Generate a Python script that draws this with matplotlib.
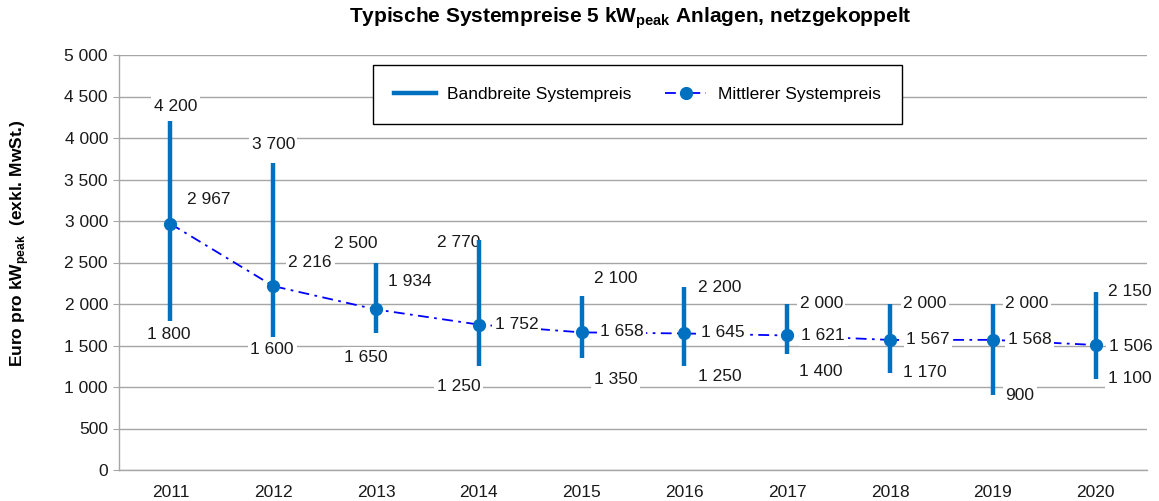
import matplotlib
matplotlib.use("Agg")
import matplotlib.pyplot as plt
from matplotlib.lines import Line2D

plt.rcParams['font.family'] = ['Liberation Sans', 'DejaVu Sans']
plt.rcParams['mathtext.fontset'] = 'custom'
plt.rcParams['mathtext.rm'] = 'Liberation Sans'
plt.rcParams['mathtext.bf'] = 'Liberation Sans:bold'

years = ['2011', '2012', '2013', '2014', '2015', '2016', '2017', '2018', '2019', '2020']
price_max = [4200, 3700, 2500, 2770, 2100, 2200, 2000, 2000, 2000, 2150]
price_min = [1800, 1600, 1650, 1250, 1350, 1250, 1400, 1170, 900, 1100]
price_mean = [2967, 2216, 1934, 1752, 1658, 1645, 1621, 1567, 1568, 1506]
y_ticks = [0, 500, 1000, 1500, 2000, 2500, 3000, 3500, 4000, 4500, 5000]

# label offsets in pixels (dx, dy screen-down)
off_max = [(5, -15), (0, -18), (-20, -19), (-20, 2), (34, -17), (35, 0), (34, 0), (35, 0), (34, 0), (34, 0)]
off_min = [(-2, 14), (-1, 12), (-10, 24), (-20, 20), (34, 22), (35, 10), (34, 18), (35, 0), (27, 0), (34, 0)]
off_mean = [(38, -24), (37, -24), (34, -28), (38, 0), (40, -1), (38, -1), (36, 0), (38, 0), (37, 0), (35, 1)]

def fmt(v):
    return f"{v:,}".replace(",", " ")

BAR = '#0070C0'
GRID = '#A6A6A6'
TXT = '#1a1a1a'
FS = 12.5

fig = plt.figure(figsize=(11.59, 5.01), dpi=100)
ax = fig.add_axes([119/1159, 1-470/501, (1147-119)/1159, (470-55)/501])

x = list(range(len(years)))
ax.set_xlim(-0.5, len(years)-0.5)
ax.set_ylim(0, 5000)
ax.set_yticks(y_ticks)
ax.set_yticklabels([fmt(v) for v in y_ticks])
ax.set_xticks(x)
ax.set_xticklabels(years)
ax.grid(axis='y', color=GRID, linewidth=1.0, zorder=0)
ax.set_axisbelow(True)
for s in ['top', 'right']:
    ax.spines[s].set_visible(False)
for s in ['left', 'bottom']:
    ax.spines[s].set_color(GRID)
    ax.spines[s].set_linewidth(1.0)
ax.tick_params(axis='y', length=4, color=GRID, pad=4, labelsize=FS, labelcolor=TXT)
ax.tick_params(axis='x', length=0, pad=11, labelsize=FS, labelcolor=TXT)

ax.vlines(x, price_min, price_max, color=BAR, linewidth=3.2, zorder=3)
ax.plot(x, price_mean, color='#0000FF', linewidth=1.3, linestyle=(0, (6, 3, 1.5, 3)), zorder=2)
ax.plot(x, price_mean, linestyle='none', marker='o', markersize=8.5, color=BAR, zorder=4)

bb = dict(boxstyle='square,pad=0.15', facecolor='white', edgecolor='none')
for i in x:
    for val, off in ((price_max[i], off_max[i]), (price_min[i], off_min[i]), (price_mean[i], off_mean[i])):
        ax.annotate(fmt(val), (i, val), xytext=(off[0], -off[1]), textcoords='offset pixels',
                    ha='center', va='center', fontsize=FS, color=TXT, bbox=bb, zorder=2.5)

ax.set_ylabel('Euro pro kW$_{\\mathbf{peak}}$  (exkl. MwSt.)', fontsize=12.5, fontweight='bold')
ax.yaxis.set_label_coords(-(119-20)/1028, (470-243)/415)
ax.yaxis.label.set_va('center')

fig.text(630/1159, 1-18/501, 'Typische Systempreise 5 kW$_{\\mathbf{peak}}$ Anlagen, netzgekoppelt',
         ha='center', va='center', fontsize=15, fontweight='bold')

handles = [Line2D([], [], color=BAR, linewidth=3.2),
           Line2D([], [], color='#0000FF', linewidth=1.3, linestyle=(0, (6, 3, 1.5, 3)),
                  marker='o', markersize=8.5, markerfacecolor=BAR, markeredgecolor=BAR)]
leg = ax.legend(handles, ['Bandbreite Systempreis', 'Mittlerer Systempreis'], ncol=2,
                loc='center', bbox_to_anchor=(637.5/1159, 1-94.5/501), bbox_transform=fig.transFigure,
                fontsize=FS, frameon=True, fancybox=False, edgecolor='black', framealpha=1,
                handlelength=2.4, columnspacing=1.9, borderpad=1.25, handletextpad=0.65,
                borderaxespad=0)
leg.get_frame().set_linewidth(1.0)
leg.set_zorder(10)

fig.savefig('out.png', dpi=100)
